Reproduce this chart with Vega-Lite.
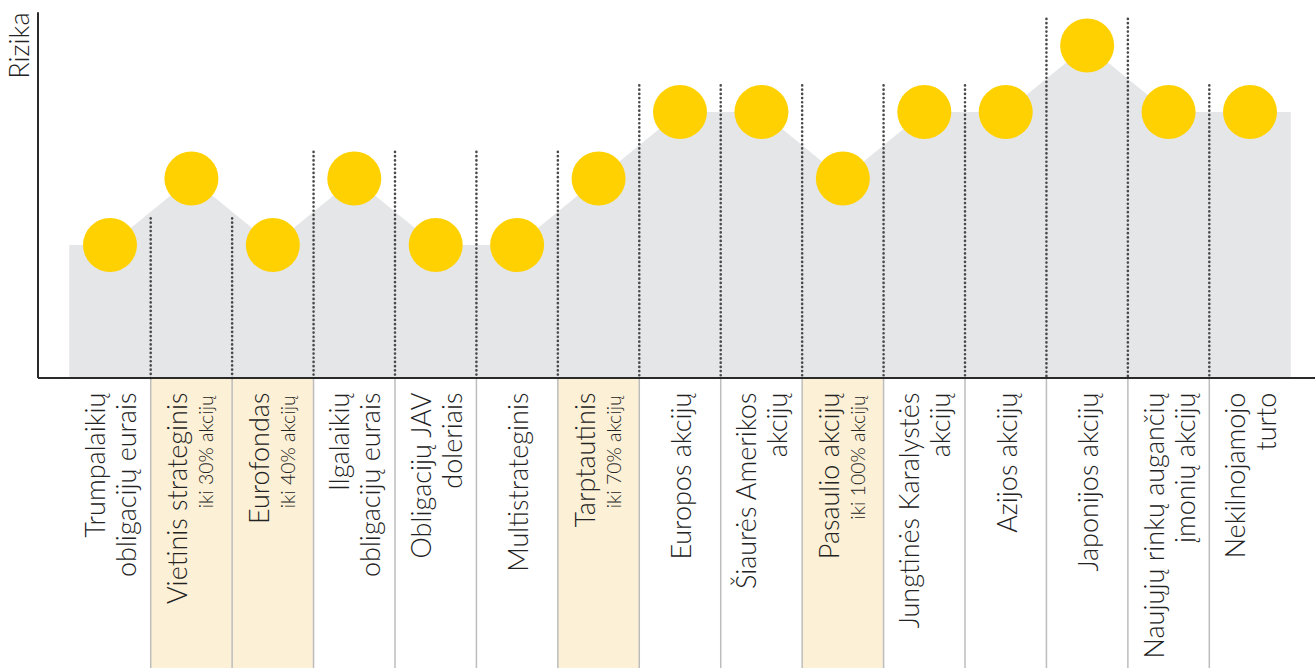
{
  "$schema": "https://vega.github.io/schema/vega-lite/v6.json",
  "width": 1277,
  "height": 668,
  "padding": {"left": 38, "top": 0, "right": 0, "bottom": 0},
  "autosize": {"type": "none"},
  "background": "white",
  "config": {"view": {"stroke": null}},
  "datasets": {
    "funds": [
      {"idx": 0, "name": "Trumpalaikių\nobligacijų eurais", "sub": null, "risk": 2, "hl": false},
      {"idx": 1, "name": "Vietinis strateginis", "sub": "iki 30% akcijų", "risk": 3, "hl": true},
      {"idx": 2, "name": "Eurofondas", "sub": "iki 40% akcijų", "risk": 2, "hl": true},
      {"idx": 3, "name": "Ilgalaikių\nobligacijų eurais", "sub": null, "risk": 3, "hl": false},
      {"idx": 4, "name": "Obligacijų JAV\ndoleriais", "sub": null, "risk": 2, "hl": false},
      {"idx": 5, "name": "Multistrateginis", "sub": null, "risk": 2, "hl": false},
      {"idx": 6, "name": "Tarptautinis", "sub": "iki 70% akcijų", "risk": 3, "hl": true},
      {"idx": 7, "name": "Europos akcijų", "sub": null, "risk": 4, "hl": false},
      {"idx": 8, "name": "Šiaurės Amerikos\nakcijų", "sub": null, "risk": 4, "hl": false},
      {"idx": 9, "name": "Pasaulio akcijų", "sub": "iki 100% akcijų", "risk": 3, "hl": true},
      {"idx": 10, "name": "Jungtinės Karalystės\nakcijų", "sub": null, "risk": 4, "hl": false},
      {"idx": 11, "name": "Azijos akcijų", "sub": null, "risk": 4, "hl": false},
      {"idx": 12, "name": "Japonijos akcijų", "sub": null, "risk": 5, "hl": false},
      {"idx": 13, "name": "Naujųjų rinkų augančių\nįmonių akcijų", "sub": null, "risk": 4, "hl": false},
      {"idx": 14, "name": "Nekilnojamojo\nturto", "sub": null, "risk": 4, "hl": false}
    ],
    "profile": [
      {"idx": -0.5, "risk": 2},
      {"idx": 0, "risk": 2},
      {"idx": 1, "risk": 3},
      {"idx": 2, "risk": 2},
      {"idx": 3, "risk": 3},
      {"idx": 4, "risk": 2},
      {"idx": 5, "risk": 2},
      {"idx": 6, "risk": 3},
      {"idx": 7, "risk": 4},
      {"idx": 8, "risk": 4},
      {"idx": 9, "risk": 3},
      {"idx": 10, "risk": 4},
      {"idx": 11, "risk": 4},
      {"idx": 12, "risk": 5},
      {"idx": 13, "risk": 4},
      {"idx": 14, "risk": 4},
      {"idx": 14.5, "risk": 4}
    ],
    "bounds": [
      {"pos": 0.5, "top": 2.4},
      {"pos": 1.5, "top": 2.4},
      {"pos": 2.5, "top": 3.4},
      {"pos": 3.5, "top": 3.4},
      {"pos": 4.5, "top": 3.4},
      {"pos": 5.5, "top": 3.4},
      {"pos": 6.5, "top": 4.4},
      {"pos": 7.5, "top": 4.4},
      {"pos": 8.5, "top": 4.4},
      {"pos": 9.5, "top": 4.4},
      {"pos": 10.5, "top": 4.4},
      {"pos": 11.5, "top": 5.4},
      {"pos": 12.5, "top": 5.4},
      {"pos": 13.5, "top": 4.4}
    ],
    "one": [{}]
  },
  "layer": [
    {
      "data": {"name": "funds"},
      "transform": [{"filter": "datum.hl"}],
      "mark": {"type": "bar", "width": 81.4, "color": "#FCF0D6"},
      "encoding": {
        "x": {"field": "idx", "type": "quantitative", "scale": {"domain": [-0.884, 14.798], "nice": false, "zero": false, "padding": 0}, "axis": null},
        "y": {"datum": -4.361, "type": "quantitative", "scale": {"domain": [-4.361, 5.684], "nice": false, "zero": false, "padding": 0},
          "axis": {"domain": false, "ticks": false, "labels": false, "grid": false, "title": "Rizika",
            "titleFont": "Lato", "titleFontWeight": 300, "titleFontSize": 27, "titleColor": "#222",
            "titleAngle": 270, "titleAlign": "right", "titleBaseline": "middle", "titleX": -18, "titleY": 12}},
        "y2": {"datum": 0}
      }
    },
    {
      "data": {"name": "bounds"},
      "mark": {"type": "rule", "color": "#BDBDBD", "strokeWidth": 1.5},
      "encoding": {
        "x": {"field": "pos", "type": "quantitative", "scale": {"domain": [-0.884, 14.798], "nice": false, "zero": false, "padding": 0}},
        "y": {"datum": -4.361, "type": "quantitative", "scale": {"domain": [-4.361, 5.684], "nice": false, "zero": false, "padding": 0}},
        "y2": {"datum": 0}
      }
    },
    {
      "data": {"name": "profile"},
      "mark": {"type": "area", "color": "#E5E6E8", "opacity": 1},
      "encoding": {
        "x": {"field": "idx", "type": "quantitative", "scale": {"domain": [-0.884, 14.798], "nice": false, "zero": false, "padding": 0}},
        "y": {"field": "risk", "type": "quantitative", "scale": {"domain": [-4.361, 5.684], "nice": false, "zero": false, "padding": 0}},
        "y2": {"datum": 0}
      }
    },
    {
      "data": {"name": "bounds"},
      "mark": {"type": "rule", "color": "#4a4a4a", "strokeWidth": 2.6, "strokeDash": [0.1, 4.1], "strokeCap": "round"},
      "encoding": {
        "x": {"field": "pos", "type": "quantitative", "scale": {"domain": [-0.884, 14.798], "nice": false, "zero": false, "padding": 0}},
        "y": {"field": "top", "type": "quantitative", "scale": {"domain": [-4.361, 5.684], "nice": false, "zero": false, "padding": 0}},
        "y2": {"datum": 0}
      }
    },
    {
      "data": {"name": "one"},
      "mark": {"type": "rule", "color": "#2a2a2a", "strokeWidth": 2},
      "encoding": {
        "x": {"datum": -0.884, "type": "quantitative", "scale": {"domain": [-0.884, 14.798], "nice": false, "zero": false, "padding": 0}},
        "y": {"datum": 0, "type": "quantitative", "scale": {"domain": [-4.361, 5.684], "nice": false, "zero": false, "padding": 0}},
        "y2": {"datum": 5.5}
      }
    },
    {
      "data": {"name": "one"},
      "mark": {"type": "rule", "color": "#2a2a2a", "strokeWidth": 2},
      "encoding": {
        "x": {"datum": -0.884, "type": "quantitative", "scale": {"domain": [-0.884, 14.798], "nice": false, "zero": false, "padding": 0}},
        "x2": {"datum": 14.798},
        "y": {"datum": 0, "type": "quantitative", "scale": {"domain": [-4.361, 5.684], "nice": false, "zero": false, "padding": 0}}
      }
    },
    {
      "data": {"name": "funds"},
      "mark": {"type": "circle", "size": 2916, "color": "#FFD100", "opacity": 1},
      "encoding": {
        "x": {"field": "idx", "type": "quantitative", "scale": {"domain": [-0.884, 14.798], "nice": false, "zero": false, "padding": 0}},
        "y": {"field": "risk", "type": "quantitative", "scale": {"domain": [-4.361, 5.684], "nice": false, "zero": false, "padding": 0}}
      }
    },
    {
      "data": {"name": "funds"},
      "transform": [{"filter": "!datum.sub && indexof(datum.name, '\\n') < 0"}],
      "mark": {"type": "text", "angle": 270, "align": "right", "baseline": "middle", "dy": 3,
        "font": "Lato", "fontWeight": 300, "fontSize": 27, "color": "#222"},
      "encoding": {
        "x": {"field": "idx", "type": "quantitative", "scale": {"domain": [-0.884, 14.798], "nice": false, "zero": false, "padding": 0}},
        "y": {"datum": -0.22, "type": "quantitative", "scale": {"domain": [-4.361, 5.684], "nice": false, "zero": false, "padding": 0}},
        "text": {"field": "name"}
      }
    },
    {
      "data": {"name": "funds"},
      "transform": [{"filter": "indexof(datum.name, '\\n') >= 0"}],
      "mark": {"type": "text", "angle": 270, "align": "right", "baseline": "middle", "lineBreak": "\n", "lineHeight": 31, "dy": -13,
        "font": "Lato", "fontWeight": 300, "fontSize": 27, "color": "#222"},
      "encoding": {
        "x": {"field": "idx", "type": "quantitative", "scale": {"domain": [-0.884, 14.798], "nice": false, "zero": false, "padding": 0}},
        "y": {"datum": -0.22, "type": "quantitative", "scale": {"domain": [-4.361, 5.684], "nice": false, "zero": false, "padding": 0}},
        "text": {"field": "name"}
      }
    },
    {
      "data": {"name": "funds"},
      "transform": [{"filter": "datum.sub"}],
      "mark": {"type": "text", "angle": 270, "align": "right", "baseline": "middle", "dy": -12,
        "font": "Lato", "fontWeight": 300, "fontSize": 27, "color": "#222"},
      "encoding": {
        "x": {"field": "idx", "type": "quantitative", "scale": {"domain": [-0.884, 14.798], "nice": false, "zero": false, "padding": 0}},
        "y": {"datum": -0.22, "type": "quantitative", "scale": {"domain": [-4.361, 5.684], "nice": false, "zero": false, "padding": 0}},
        "text": {"field": "name"}
      }
    },
    {
      "data": {"name": "funds"},
      "transform": [{"filter": "datum.sub"}],
      "mark": {"type": "text", "angle": 270, "align": "right", "baseline": "middle", "dy": 16,
        "font": "Lato", "fontWeight": 300, "fontSize": 19.5, "color": "#222"},
      "encoding": {
        "x": {"field": "idx", "type": "quantitative", "scale": {"domain": [-0.884, 14.798], "nice": false, "zero": false, "padding": 0}},
        "y": {"datum": -0.26, "type": "quantitative", "scale": {"domain": [-4.361, 5.684], "nice": false, "zero": false, "padding": 0}},
        "text": {"field": "sub"}
      }
    }
  ]
}
